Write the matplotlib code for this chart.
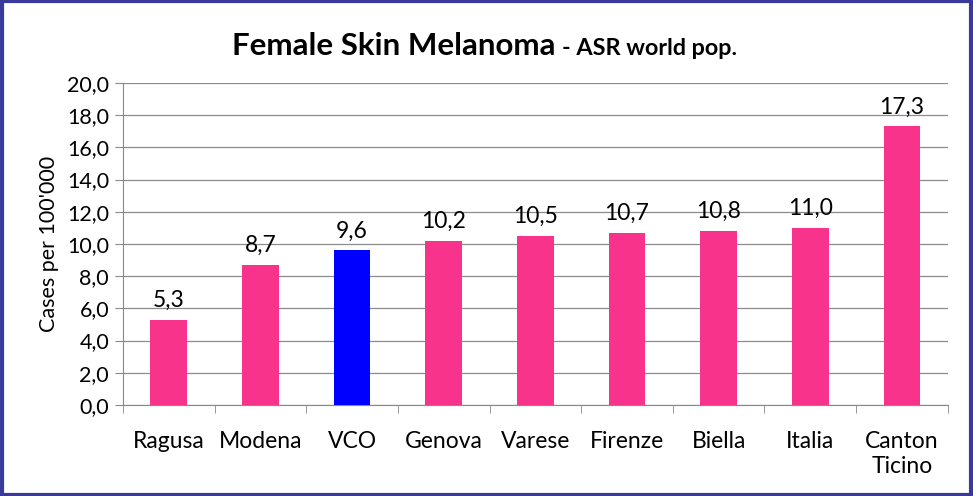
import matplotlib.pyplot as plt
import numpy as np

regions = ['Ragusa', 'Modena', 'VCO', 'Genova', 'Varese', 'Firenze', 'Biella', 'Italia', 'Canton\nTicino']
asr = [5.3, 8.7, 9.6, 10.2, 10.5, 10.7, 10.8, 11.0, 17.3]
highlight = 'VCO'

plt.rcParams['font.family'] = ['Lato', 'DejaVu Sans']

fig = plt.figure(figsize=(9.73, 4.96), dpi=100)
ax = fig.add_axes([0.1264, 0.1835, 0.8476, 0.6492])

x = np.arange(len(regions))
colors = ['#0000FF' if r == highlight else '#F7338B' for r in regions]
ax.bar(x, asr, width=0.4, color=colors, zorder=3)

for xi, v in zip(x, asr):
    ax.text(xi, v + 0.55, ('%.1f' % v).replace('.', ','), ha='center', va='bottom', fontsize=16.5)

ax.set_xlim(-0.5, len(regions) - 0.5)
ax.set_ylim(0, 20)
ax.set_yticks(np.arange(0, 21, 2))
ax.set_yticklabels([('%.1f' % t).replace('.', ',') for t in np.arange(0, 21, 2)], fontsize=15.5)
ax.set_xticks(x)
ax.set_xticklabels(regions, fontsize=16.5, linespacing=1.2, va='top')
ax.tick_params(axis='x', length=0, pad=19)
ax.set_xticks(np.arange(-0.5, len(regions)), minor=True)
ax.tick_params(axis='x', which='minor', length=6, color='#888888')
ax.tick_params(axis='y', length=6, color='#888888', pad=4)
ax.yaxis.grid(True, color='#8c8c8c', linewidth=0.9, zorder=0)
for s in ['top', 'right']:
    ax.spines[s].set_visible(False)
for s in ['left', 'bottom']:
    ax.spines[s].set_color('#888888')
ax.set_ylabel("Cases per 100'000", fontsize=15.5, labelpad=6)

fig.text(0.571, 0.908, 'Female Skin Melanoma', fontsize=22.5, fontweight='bold', ha='right', va='center')
fig.text(0.578, 0.903, '- ASR world pop.', fontsize=16.8, fontweight='bold', ha='left', va='center')

fig.patches.append(plt.Rectangle((0.002, 0.003), 0.996, 0.994, transform=fig.transFigure,
                                 fill=False, edgecolor='#3a3a9a', linewidth=3))

fig.savefig('out.png', dpi=100)
